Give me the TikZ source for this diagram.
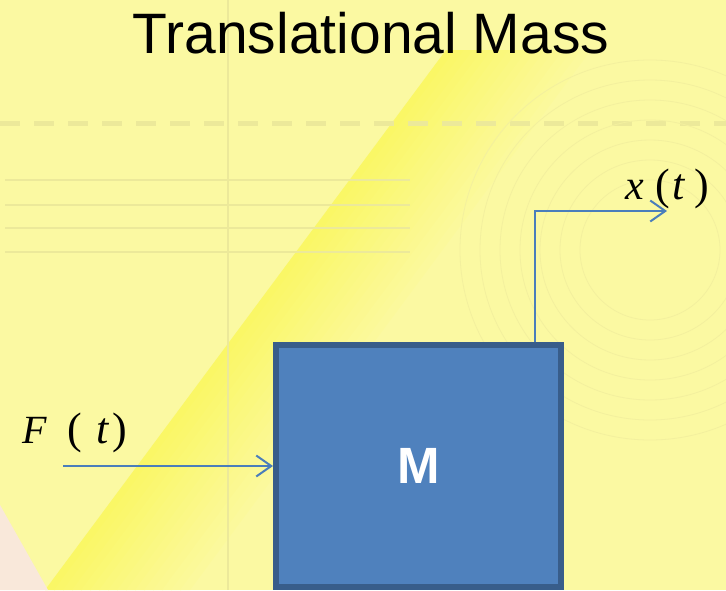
\documentclass[tikz,border=0pt]{standalone}
\usepackage{fontspec}
\setmainfont{Liberation Serif}
\newfontfamily\titlefont{Liberation Sans}
\usetikzlibrary{arrows.meta}
\definecolor{bgpale}{HTML}{FBF9A2}
\definecolor{bgband}{HTML}{FAF766}
\definecolor{texture}{HTML}{ECE99A}
\definecolor{pinkish}{HTML}{F9E8DA}
\definecolor{boxfill}{HTML}{4F81BD}
\definecolor{boxline}{HTML}{385D8A}
\definecolor{wire}{HTML}{4A7EBB}
\tikzset{
  massbox/.style={draw=boxline, fill=boxfill, line width=6pt, minimum width=285pt, minimum height=242pt, inner sep=0pt, text=white, font=\titlefont\bfseries\fontsize{51}{60}\selectfont},
  sig/.style={wire, line width=2pt, -{Straight Barb[length=15pt,width=21pt,line width=2pt]}},
  lbl/.style={inner sep=0pt, font=\fontsize{44}{50}\selectfont, text=black},
  tex/.style={texture, line width=1.2pt}
}
\begin{document}
\begin{tikzpicture}[x=1pt,y=-1pt]
\useasboundingbox (0,0) rectangle (726,590);
% background
\fill[bgpale] (0,0) rectangle (726,590);
\foreach \i in {0,...,15}{
  \pgfmathsetmacro{\mix}{100-6*\i}
  \fill[bgband!\mix!bgpale] ({446+9*\i},50) -- ({456+9*\i},50) -- ({55+9*\i},590) -- ({45+9*\i},590) -- cycle;
}
\fill[pinkish] (0,505) -- (48,590) -- (0,590) -- cycle;
% faint texture
\draw[tex, line width=5pt, dash pattern=on 20pt off 14pt] (0,123) -- (726,123);
\foreach \yy in {180,205,228,252}{\draw[tex] (5,\yy) -- (410,\yy);}
\draw[tex] (228,0) -- (228,590);
\foreach \r in {70,90,...,190}{\draw[texture!55!bgpale, line width=0.8pt] (650,250) circle[radius=\r pt];}
% title
\node[inner sep=0pt, anchor=base, font=\titlefont\fontsize{57}{64}\selectfont] (title) at (371,53) {Translational Mass};
% mass box
\node[massbox] (M) at (418.5,466) {M};
% connectors
\coordinate (fin) at (63,466);
\coordinate (xend) at (667,211);
\draw[sig] (fin) -- (M.west |- fin);
\draw[sig] ([xshift=116.5pt]M.north) |- (xend);
% labels
\node[lbl, anchor=base west] (Flbl) at (22,443) {{\fontsize{40}{46}\selectfont\textit{F}}\hspace{21pt}(\hspace{14pt}\textit{t}\hspace{3pt})};
\node[lbl, anchor=base west] (xlbl) at (625,199) {{\fontsize{42}{48}\selectfont\textit{x}}\hspace{12pt}(\hspace{2pt}\textit{t}\hspace{9pt})};
\end{tikzpicture}
\end{document}
